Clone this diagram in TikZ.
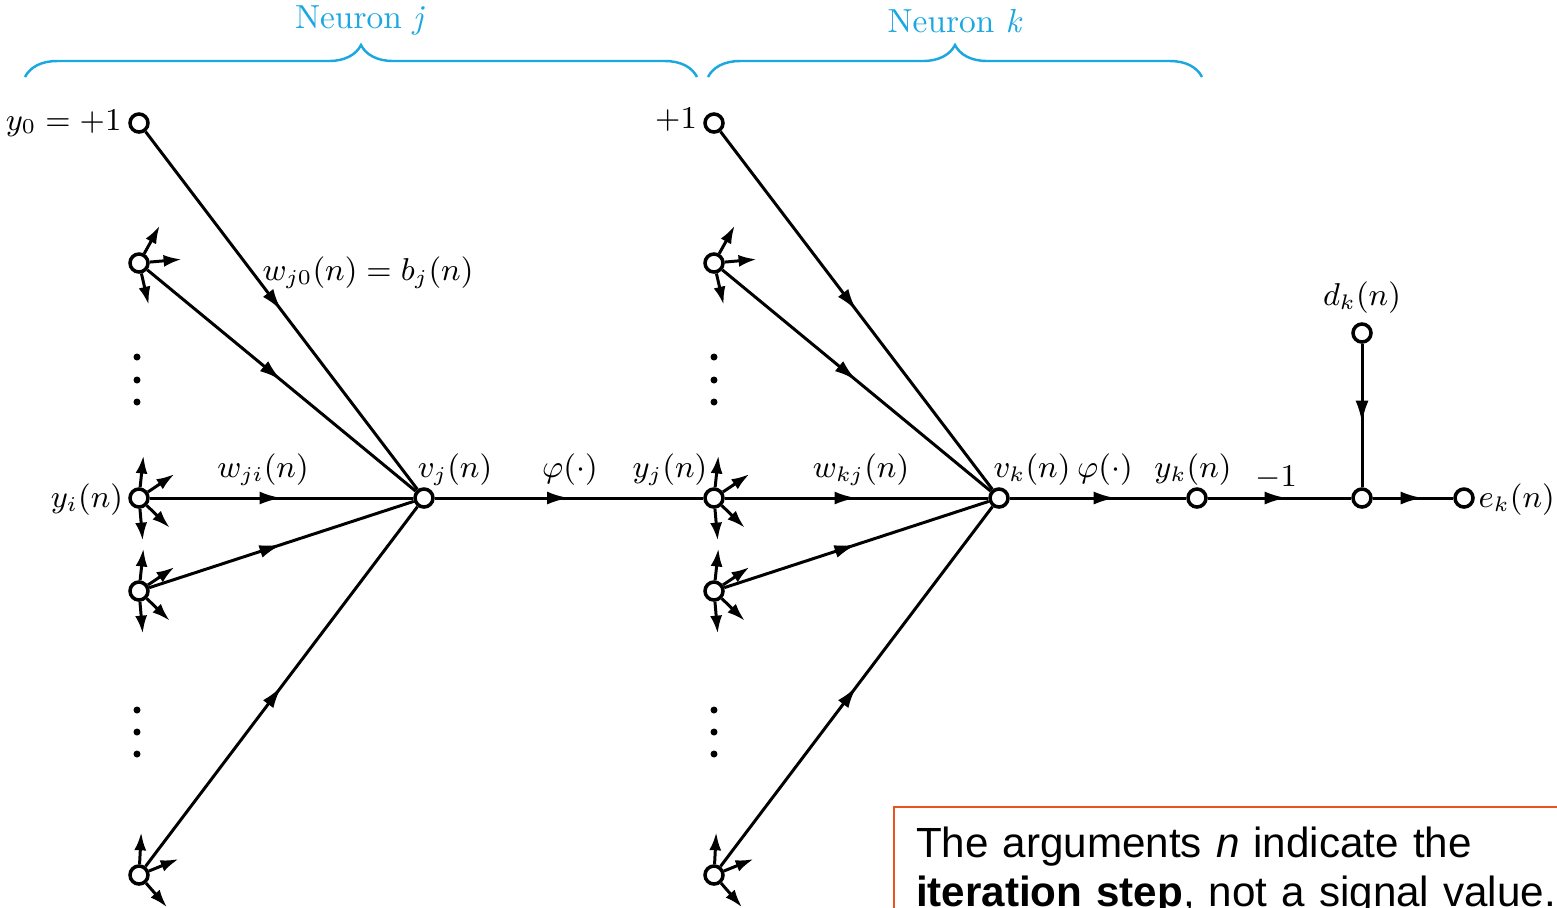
\documentclass[tikz,border=0pt]{standalone}
\usepackage{amsmath,amssymb}
\usepackage{fontspec}
\newfontfamily\notefont{Liberation Sans}
\usepackage{tikz}
\usetikzlibrary{arrows.meta,positioning,calc,decorations.markings,decorations.pathreplacing}

\definecolor{bracecyan}{RGB}{27,167,224}
\definecolor{noteorange}{RGB}{232,84,32}

\tikzset{
  sig/.style={circle,draw,fill=white,line width=1pt,minimum size=1.8mm,inner sep=0pt},
  wire/.style={line width=0.85pt},
  midarrow/.style={wire,postaction={decorate},
    decoration={markings,mark=at position #1 with {\arrow{Latex[length=2.2mm,width=1.3mm]}}}},
  midarrow/.default=0.5,
  fanout/.style={line width=0.85pt,-{Latex[length=1.8mm,width=1.2mm]}},
  lab/.style={inner sep=0pt,font=\fontsize{9.2}{11}\selectfont},
  brace/.style={draw=bracecyan,line width=0.7pt,decorate,decoration={brace,amplitude=3.2mm}},
  bracelab/.style={inner sep=0pt,text=bracecyan,font=\fontsize{9.5}{11}\selectfont},
  notebox/.style={draw=noteorange,line width=0.6pt,fill=white,align=left,text width=80mm,
    inner xsep=2.2mm,inner ysep=2mm,font=\notefont\fontsize{12}{13.8}\selectfont}
}

\begin{document}
\begin{tikzpicture}[x=0.1mm,y=-0.1mm,>=Latex]
  \useasboundingbox (0,0) rectangle (1557,907);
  \clip (0,0) rectangle (1557,907);

  % neuron j
  \node[sig] (bj) at (139,123) {};
  \node[sig] (xa) at (139,263) {};
  \node[sig] (xi) at (139,498) {};
  \node[sig] (xb) at (139,591) {};
  \node[sig] (xc) at (139,875) {};
  \node[sig] (vj) at (424,498) {};
  % neuron k
  \node[sig] (bk) at (714,123) {};
  \node[sig] (ya) at (714,263) {};
  \node[sig] (yj) at (714,498) {};
  \node[sig] (yb) at (714,591) {};
  \node[sig] (yc) at (714,875) {};
  \node[sig] (vk) at (999,498) {};
  \node[sig] (yk) at (1197,498) {};
  \node[sig] (sk) at (1362,498) {};
  \node[sig] (dk) at (1362,333) {};
  \node[sig] (ek) at (1464,498) {};

  \foreach \a in {bj,xa,xi,xb,xc} \draw[midarrow] (\a) -- (vj);
  \foreach \a in {bk,ya,yj,yb,yc} \draw[midarrow] (\a) -- (vk);
  \draw[midarrow] (vj) -- (yj);
  \draw[midarrow=0.6] (vk) -- (yk);
  \draw[midarrow=0.55] (yk) -- (sk);
  \draw[midarrow=0.55] (dk) -- (sk);
  \draw[midarrow=0.62] (sk) -- (ek);

  % fan-out to other neurons
  \foreach \n/\angs in {xa/{61,5,-77},xi/{84,34,-44,-85},xb/{84,34,-44,-85},xc/{87,22,-49},
                        ya/{61,5,-77},yj/{84,34,-44,-85},yb/{84,34,-44,-85},yc/{87,22,-49}}
    \foreach \a in \angs \draw[fanout] (\n.\a) -- ++(\a:3.2mm);

  \foreach \x in {137,714}
    \foreach \y in {357,380,402,710,732,754} \fill (\x,\y) circle (0.35mm);

  % labels
  \node[lab,anchor=east] (ly0) at (122,123) {$y_0 = +1$};
  \node[lab] (lbk) at (676,120) {$+1$};
  \node[lab] (lwj0) at (368,273) {$w_{j0}(n) = b_j(n)$};
  \node[lab] (lwji) at (263,470) {$w_{ji}(n)$};
  \node[lab] (lyi) at (87,500) {$y_i(n)$};
  \node[lab] (lvj) at (455,470) {$v_j(n)$};
  \node[lab] (lphj) at (570,470) {$\varphi(\cdot)$};
  \node[lab] (lyj) at (670,470) {$y_j(n)$};
  \node[lab] (lwkj) at (861,470) {$w_{kj}(n)$};
  \node[lab] (lvk) at (1032,470) {$v_k(n)$};
  \node[lab] (lphk) at (1105,470) {$\varphi(\cdot)$};
  \node[lab] (lyk) at (1193,470) {$y_k(n)$};
  \node[lab] (lm1) at (1276,478) {$-1$};
  \node[lab] (ldk) at (1362,298) {$d_k(n)$};
  \node[lab,anchor=west] (lek) at (1478,500) {$e_k(n)$};

  % neuron braces
  \draw[brace] (25,77) -- (697,77);
  \draw[brace] (708,77) -- (1202,77);
  \node[bracelab] (nj) at (360,21) {Neuron \textit{j}};
  \node[bracelab] (nk) at (955,21) {Neuron \textit{k}};

  \node[notebox,anchor=north west] (note) at (893,806)
    {The arguments \textit{n} indicate the\\\textbf{iteration step}, not a signal value.};
\end{tikzpicture}
\end{document}
